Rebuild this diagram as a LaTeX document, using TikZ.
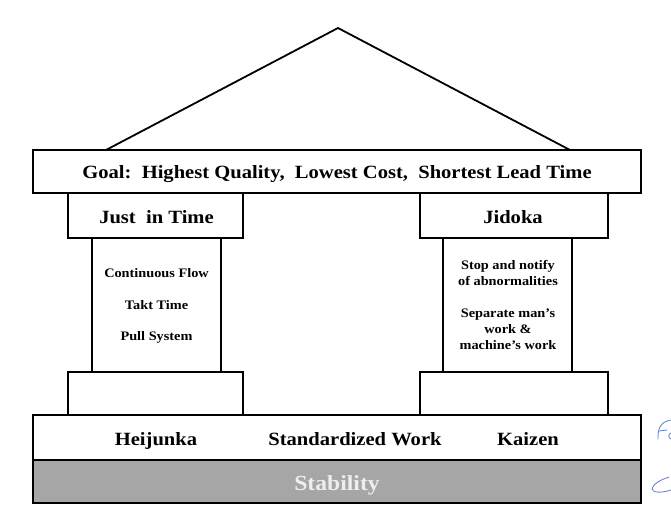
\documentclass[tikz,border=0pt]{standalone}
\usepackage{fontspec}
\setmainfont{Liberation Serif}[FakeStretch=1.1]
\definecolor{stab}{HTML}{A6A6A6}
\definecolor{stabtxt}{HTML}{EEEEEE}
\definecolor{pen}{HTML}{5B7FC8}
\tikzset{
  box/.style={draw=black, line width=1.8pt, fill=white, inner sep=0pt},
  big/.style={inner sep=0pt, anchor=base, font=\fontsize{18.7}{22}\selectfont\bfseries},
  small/.style={inner sep=0pt, anchor=base, font=\fontsize{13}{16}\selectfont\bfseries},
  hand/.style={draw=pen, line width=0.8pt, line cap=round, line join=round}
}
\begin{document}
\begin{tikzpicture}[x=1pt,y=-1pt]
\useasboundingbox (0,0) rectangle (671,523);
% roof
\coordinate (apex) at (338,28);
\coordinate (roofL) at (106,150);
\coordinate (roofR) at (570,150);
\draw[line width=1.8pt, line join=miter] (roofL) -- (apex) -- (roofR);
% columns
\node[box, minimum width=129pt, minimum height=134pt] (colL) at (156.5,305) {};
\node[box, minimum width=129pt, minimum height=134pt] (colR) at (507.5,305) {};
% capitals
\node[box, minimum width=175pt, minimum height=45pt] (jit) at (155.5,215.5) {};
\node[box, minimum width=188pt, minimum height=45pt] (jid) at (514,215.5) {};
% bases
\node[box, minimum width=175pt, minimum height=43pt] (baseL) at (155.5,393.5) {};
\node[box, minimum width=188pt, minimum height=43pt] (baseR) at (514,393.5) {};
% goal
\node[box, minimum width=608pt, minimum height=43pt] (goal) at (337,171.5) {};
% foundation
\node[box, minimum width=608pt, minimum height=45pt] (found) at (337,437.5) {};
\node[box, fill=stab, minimum width=608pt, minimum height=43pt] (stabbox) at (337,481.5) {};
% texts
\node[big] (goaltxt) at (337,178) {Goal:\ \ Highest Quality,\ \ Lowest Cost,\ \ Shortest Lead Time};
\node[big] (jittxt) at (156.5,223) {Just\ \ in Time};
\node[big] (jidtxt) at (513,223) {Jidoka};
\node[small] (t1) at (156.5,277) {Continuous Flow};
\node[small] (t2) at (156.5,309) {Takt Time};
\node[small] (t3) at (156.5,340) {Pull System};
\node[small] (t4a) at (508,269) {Stop and notify};
\node[small] (t4b) at (508,285) {of abnormalities};
\node[small] (t5a) at (508,317) {Separate man’s};
\node[small] (t5b) at (508,333) {work \&};
\node[small] (t5c) at (508,349) {machine’s work};
\node[big] (hei) at (156,445) {Heijunka};
\node[big] (std) at (355,445) {Standardized Work};
\node[big] (kai) at (528,445) {Kaizen};
\node[inner sep=0pt, anchor=base, font=\fontsize{21.5}{24}\selectfont\bfseries, text=stabtxt] (stabtxt) at (337,490) {Stability};
% handwritten marks at right edge
\draw[hand] (658,439) .. controls (658,430) and (659,422) .. (671,420);
\draw[hand] (659,431) -- (667,430);
\draw[hand] (671,433) .. controls (668,434) and (668,438) .. (671,439);
\draw[hand] (669,477) .. controls (660,480) and (653,484) .. (652,489)
  .. controls (653,493) and (662,493) .. (671,490);
\end{tikzpicture}
\end{document}
